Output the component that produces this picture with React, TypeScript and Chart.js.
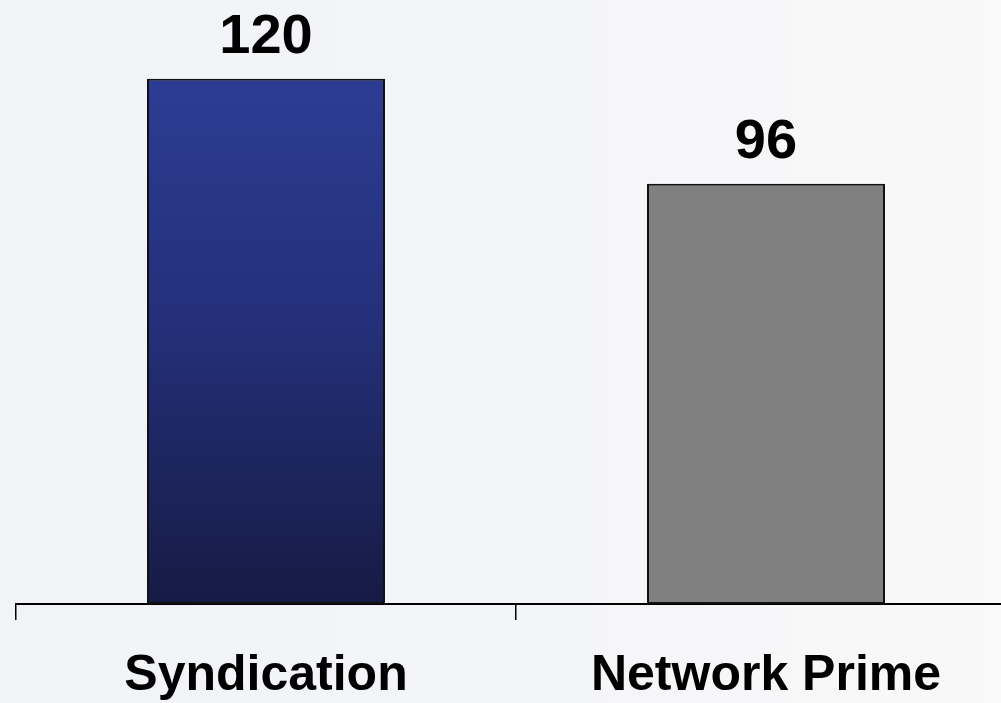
import React, { useEffect, useRef } from "react";
import { Chart, registerables } from "chart.js";

Chart.register(...registerables);

const categories = ["Syndication", "Network Prime"];
const values = [120, 96];
const yMax = 130;

const FONT = "'Liberation Sans', Arial, sans-serif";

// Writes each bar's value centred above it
const valueLabels = {
  id: "valueLabels",
  afterDatasetsDraw(chart: any) {
    const { ctx } = chart;
    const meta = chart.getDatasetMeta(0);
    ctx.save();
    ctx.font = `bold 56px ${FONT}`;
    ctx.fillStyle = "#000";
    ctx.textAlign = "center";
    ctx.textBaseline = "alphabetic";
    meta.data.forEach((bar: any, i: number) => {
      ctx.fillText(String(values[i]), bar.x, bar.y - 26);
    });
    ctx.restore();
  },
};

export default function App() {
  const canvasRef = useRef<HTMLCanvasElement | null>(null);

  useEffect(() => {
    const canvas = canvasRef.current;
    if (!canvas) return;
    const chart = new Chart(canvas, {
      type: "bar",
      data: {
        labels: categories,
        datasets: [
          {
            data: values,
            backgroundColor: (c: any) => {
              if (c.dataIndex !== 0) return "#808080";
              const area = c.chart.chartArea;
              if (!area) return "#25307a";
              const g = c.chart.ctx.createLinearGradient(0, area.top, 0, area.bottom);
              g.addColorStop(0, "#2f3e98");
              g.addColorStop(0.5, "#24307a");
              g.addColorStop(1, "#161b44");
              return g;
            },
            borderColor: "#111",
            borderWidth: 2,
            borderSkipped: false,
            categoryPercentage: 1,
            barPercentage: 0.476,
          },
        ],
      },
      options: {
        responsive: false,
        animation: false,
        layout: { padding: { left: 16, right: 0, top: 35, bottom: -29 } },
        plugins: {
          legend: { display: false },
          tooltip: { enabled: false },
        },
        scales: {
          x: {
            offset: true,
            grid: {
              display: true,
              drawOnChartArea: false,
              drawTicks: true,
              tickLength: 16,
              tickColor: "#000",
              lineWidth: 1.5,
              offset: true,
            },
            border: { display: true, color: "#000", width: 2 },
            ticks: {
              color: "#000",
              padding: 31,
              font: { family: FONT, size: 50, weight: "bold", lineHeight: 1 },
              maxRotation: 0,
              autoSkip: false,
            },
          },
          y: {
            display: false,
            min: 0,
            max: yMax,
          },
        },
      },
      plugins: [valueLabels],
    });
    return () => chart.destroy();
  }, []);

  return (
    <div
      style={{
        position: "absolute",
        left: 0,
        top: 0,
        width: 1001,
        height: 703,
        overflow: "hidden",
        background: "linear-gradient(90deg, #f2f3f7 0%, #f4f5f8 50%, #f9f9f9 100%)",
      }}
    >
      <canvas ref={canvasRef} width={1016} height={703} style={{ display: "block" }} />
    </div>
  );
}
